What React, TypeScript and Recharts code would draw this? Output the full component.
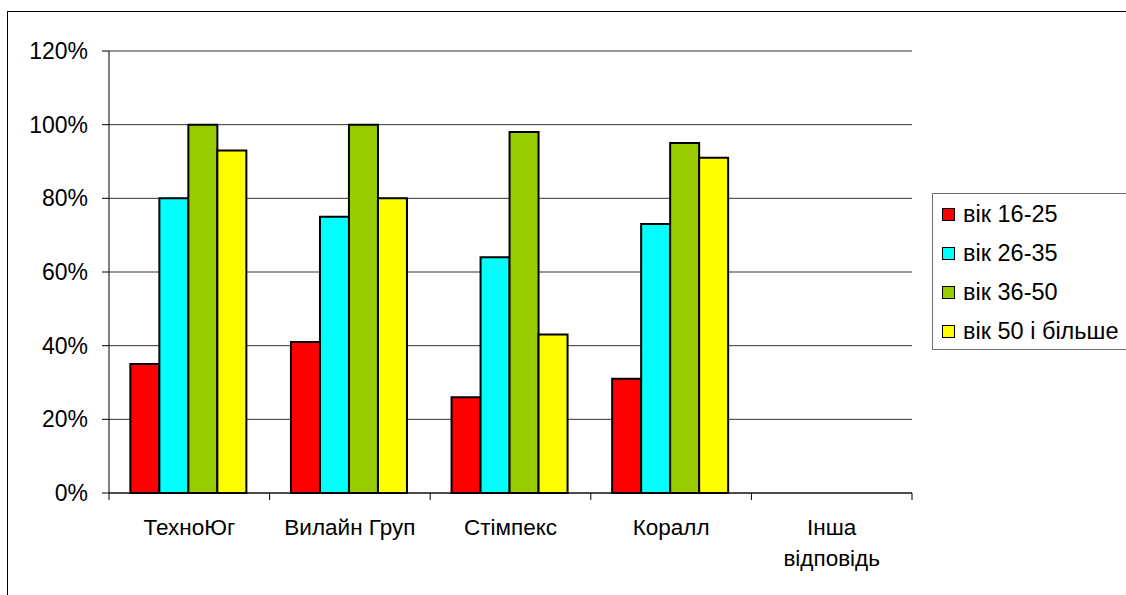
import { Bar, BarChart, CartesianGrid, Legend, Text, XAxis, YAxis } from "recharts";

const companies = ["ТехноЮг", "Вилайн Груп", "Стімпекс", "Коралл", "Інша відповідь"];
const age16to25 = [35, 41, 26, 31, null];
const age26to35 = [80, 75, 64, 73, null];
const age36to50 = [100, 100, 98, 95, null];
const age50plus = [93, 80, 43, 91, null];
const percentTicks = [0, 20, 40, 60, 80, 100, 120];

const series = [
  { key: "a16", name: "вік 16-25", color: "#FF0000", values: age16to25 },
  { key: "a26", name: "вік 26-35", color: "#00FFFF", values: age26to35 },
  { key: "a36", name: "вік 36-50", color: "#99CC00", values: age36to50 },
  { key: "a50", name: "вік 50 і більше", color: "#FFFF00", values: age50plus },
];

const data = companies.map((name, i) => {
  const row: Record<string, string | number | null> = { name };
  series.forEach((s) => (row[s.key] = s.values[i]));
  return row;
});

const FONT = '"Liberation Sans", Arial, sans-serif';
const LABEL_STYLE = { fontSize: "22.5px", fontFamily: FONT };

// category label plus the tick marks that sit between categories
function CompanyTick(props: any) {
  const { x, y, payload, index, visibleTicksCount } = props;
  const half = payload.offset ?? 0;
  return (
    <g>
      <line x1={x - half} x2={x - half} y1={y} y2={y + 7} stroke="#000" />
      {index === visibleTicksCount - 1 && (
        <line x1={x + half} x2={x + half} y1={y} y2={y + 7} stroke="#000" />
      )}
      <Text
        x={x}
        y={y + 26}
        width={140}
        textAnchor="middle"
        verticalAnchor="start"
        lineHeight={31}
        style={LABEL_STYLE}
        fill="#000"
      >
        {payload.value}
      </Text>
    </g>
  );
}

function LegendBox() {
  return (
    <div
      style={{
        boxSizing: "border-box",
        width: 200,
        height: 157,
        border: "1px solid #6e6e6e",
        background: "#fff",
        paddingTop: 1,
        fontFamily: FONT,
        fontSize: 23.5,
        color: "#000",
      }}
    >
      {series.map((s) => (
        <div key={s.key} style={{ display: "flex", alignItems: "center", height: 39 }}>
          <span
            style={{
              boxSizing: "border-box",
              flex: "none",
              width: 13,
              height: 13,
              marginLeft: 9,
              marginRight: 8,
              border: "1px solid #000",
              background: s.color,
            }}
          />
          <span style={{ whiteSpace: "nowrap" }}>{s.name}</span>
        </div>
      ))}
    </div>
  );
}

export default function App() {
  return (
    <div
      style={{
        position: "absolute",
        left: 0,
        top: 0,
        width: 1126,
        height: 595,
        overflow: "hidden",
        background: "#fff",
        fontFamily: FONT,
      }}
    >
      <div
        style={{
          position: "absolute",
          left: 7,
          top: 11,
          width: 1200,
          height: 700,
          borderLeft: "1px solid #000",
          borderTop: "1px solid #000",
        }}
      />
      <div style={{ position: "absolute", left: 0, top: 0 }}>
        <BarChart
          width={1126}
          height={595}
          data={data}
          margin={{ top: 51, right: 214, bottom: 42, left: 0 }}
          barCategoryGap="13.3%"
          barGap={0}
        >
          <CartesianGrid vertical={false} stroke="#333" />
          <XAxis
            dataKey="name"
            height={60}
            tickLine={false}
            tickSize={0}
            tickMargin={0}
            axisLine={{ stroke: "#000" }}
            interval={0}
            tick={<CompanyTick />}
          />
          <YAxis
            domain={[0, 120]}
            ticks={percentTicks}
            tickFormatter={(v: number) => `${v}%`}
            width={109}
            tickSize={7}
            tickMargin={14}
            axisLine={{ stroke: "#000" }}
            tickLine={{ stroke: "#000" }}
            tick={{ fontSize: 23, fill: "#000", fontFamily: FONT }}
          />
          <YAxis
            yAxisId="frame"
            orientation="right"
            width={0}
            tick={false}
            tickLine={false}
            axisLine={{ stroke: "#808080" }}
          />
          <Legend
            layout="vertical"
            align="center"
            verticalAlign="middle"
            wrapperStyle={{ left: 932, top: 193, width: 200, height: 157 }}
            content={() => <LegendBox />}
          />
          {series.map((s) => (
            <Bar
              key={s.key}
              dataKey={s.key}
              name={s.name}
              fill={s.color}
              stroke="#000"
              strokeWidth={2}
              isAnimationActive={false}
            />
          ))}
        </BarChart>
      </div>
    </div>
  );
}
